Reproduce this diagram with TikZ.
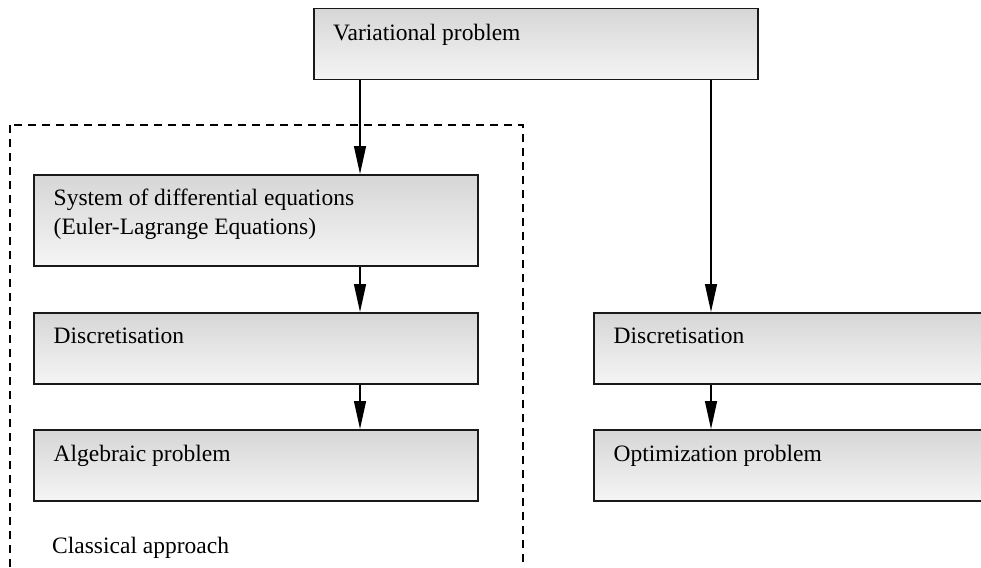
\documentclass[tikz,border=0pt]{standalone}
\usepackage{fontspec}
\setmainfont{Liberation Serif}
\usetikzlibrary{arrows.meta,calc}
\begin{document}
\begin{tikzpicture}[x=1pt,y=-1pt,
  stage/.style={rectangle, draw=black!90, line width=1.5pt,
    top color=black!16, bottom color=black!4,
    inner sep=0pt, minimum width=444pt, anchor=north west},
  caption/.style={font=\fontsize{23.5}{29}\selectfont, inner sep=0pt,
    anchor=north west, align=left},
  flow/.style={line width=1.4pt, -{Triangle[length=28pt,width=12pt]}},
  frame/.style={line width=1.5pt, dash pattern=on 8pt off 6pt}]

  \useasboundingbox (0,0) rectangle (981,567);
  \clip (0,0) rectangle (981,567);

  % dashed frame around the classical route
  \draw[frame] (10,125) rectangle (523,640);

  % stages
  \node[stage, minimum height=71pt] (vp)    at (313,8)   {};
  \node[stage, minimum height=91pt] (sys)   at (33,174)  {};
  \node[stage, minimum height=71pt] (disc1) at (33,312)  {};
  \node[stage, minimum height=71pt] (alg)   at (33,429)  {};
  \node[stage, minimum height=71pt] (disc2) at (593,312) {};
  \node[stage, minimum height=71pt] (opt)   at (593,429) {};

  % stage captions
  \node[caption] (vp-t)    at ($(vp.north west)+(20,15.5)$)    {Variational problem};
  \node[caption] (sys-t)   at ($(sys.north west)+(20.5,15)$)   {System of differential equations\\(Euler-Lagrange Equations)};
  \node[caption] (disc1-t) at ($(disc1.north west)+(20.5,16)$)   {Discretisation};
  \node[caption] (alg-t)   at ($(alg.north west)+(20.5,16)$)   {Algebraic problem};
  \node[caption] (disc2-t) at ($(disc2.north west)+(20.5,16)$)   {Discretisation};
  \node[caption] (opt-t)   at ($(opt.north west)+(20.5,16)$)   {Optimization problem};
  \node[caption] (cls-t)   at (52,537) {Classical approach};

  % connectors
  \coordinate (lane1) at (360,0);
  \coordinate (lane2) at (711,0);
  \draw[flow] (lane1 |- vp.south)    -- (lane1 |- sys.north);
  \draw[flow] (lane1 |- sys.south)   -- (lane1 |- disc1.north);
  \draw[flow] (lane1 |- disc1.south) -- (lane1 |- alg.north);
  \draw[flow] (lane2 |- vp.south)    -- (lane2 |- disc2.north);
  \draw[flow] (lane2 |- disc2.south) -- (lane2 |- opt.north);
\end{tikzpicture}
\end{document}
